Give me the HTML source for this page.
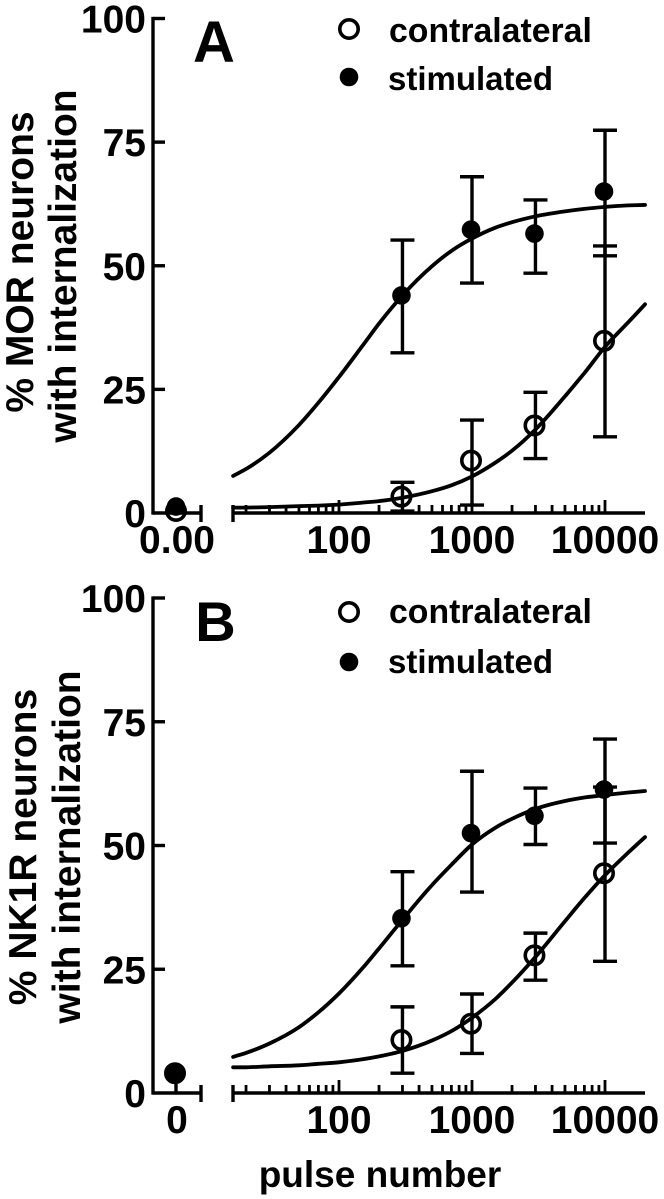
<!DOCTYPE html>
<html lang="en">
<head>
<meta charset="utf-8">
<title>Pulse number vs neurons with internalization</title>
<style>
html,body{margin:0;padding:0;background:#fff;width:664px;height:1199px;overflow:hidden}
svg{display:block;filter:blur(0.35px)}
text{font-family:"Liberation Sans",Arial,sans-serif;font-weight:bold;fill:#000}
</style>
</head>
<body>
<svg id="chart" xmlns="http://www.w3.org/2000/svg" width="664" height="1199" viewBox="0 0 664 1199"></svg>
<script>
// ---- data ----
const yTickValues = [0, 25, 50, 75, 100];
const yTickLabels = ['0', '25', '50', '75', '100'];
const xMajorValues = [100, 1000, 10000];
const xMajorLabels = ['100', '1000', '10000'];
const xMinorValues = [20,30,40,50,60,70,80,90,200,300,400,500,600,700,800,900,2000,3000,4000,5000,6000,7000,8000,9000];
const pulseCounts = [300, 1000, 3000, 10000];
const curvePulses = [16,20,30,50,70,100,150,200,300,500,700,1000,1500,2000,3000,5000,7000,10000,15000,20000];

const aContraMean = [3.3, 10.6, 17.7, 34.8];
const aContraUpper = [6.2, 18.8, 24.4, 54.0];
const aContraLower = [0.4, 1.6, 11.0, 15.4];
const aStimMean = [44.0, 57.3, 56.5, 65.0];
const aStimUpper = [55.2, 68.0, 63.3, 77.4];
const aStimLower = [32.4, 46.5, 48.5, 52.0];
const aContraCurve = [1.1,1.1,1.2,1.4,1.5,1.7,2.1,2.4,3.1,4.4,5.6,7.4,10.2,12.6,16.9,23.6,28.3,33.6,38.6,42.2];
const aStimCurve = [7.5,8.9,12.2,17.8,22.3,27.5,33.8,38.3,44.0,49.9,53.0,55.5,57.7,58.8,60.0,61.0,61.5,61.9,62.2,62.3];
const aZeroContra = 0.4;
const aZeroStim = 1.3;

const bContraMean = [10.7, 14.0, 27.8, 44.4];
const bContraUpper = [17.4, 20.0, 32.3, 61.8];
const bContraLower = [4.0, 8.0, 22.8, 26.6];
const bStimMean = [35.3, 52.5, 56.0, 61.3];
const bStimUpper = [44.7, 65.0, 61.6, 71.5];
const bStimLower = [25.7, 40.6, 50.2, 50.5];
const bContraCurve = [5.2,5.2,5.4,5.6,5.9,6.2,6.8,7.4,8.5,10.6,12.5,15.2,19.0,22.3,27.5,34.7,39.4,44.0,48.6,51.7];
const bStimCurve = [7.3,8.1,10.0,13.3,16.3,20.1,25.2,29.2,35.0,42.0,46.1,50.2,53.6,55.4,57.4,59.0,59.7,60.2,60.7,61.0];
const bZeroContra = 4.0;
const bZeroStim = 4.0;

// ---- axis functions ----
const NS = 'http://www.w3.org/2000/svg';
const svg = document.getElementById('chart');
const xLog = v => 339 + (Math.log10(v) - 2) * 133;
const scaleY = (y0, y100) => v => y0 + (y100 - y0) * v / 100;

function shape(tag, parent, props) {
  const el = document.createElementNS(NS, tag);
  for (const k in props) el.setAttribute(k, props[k]);
  parent.appendChild(el);
  return el;
}
function seg(parent, x1, y1, x2, y2, w) {
  return shape('line', parent, {x1, y1, x2, y2, stroke: '#000', 'stroke-width': w || 3.4});
}
function label(parent, str, x, y, size, anchor) {
  const el = shape('text', parent, {x, y, 'font-size': size, 'text-anchor': anchor || 'middle'});
  el.textContent = str;
  return el;
}
function smoothPath(pts) {
  const n = pts.length;
  const slope = i => {
    if (i === 0) return (pts[1][1] - pts[0][1]) / (pts[1][0] - pts[0][0]);
    if (i === n - 1) return (pts[n - 1][1] - pts[n - 2][1]) / (pts[n - 1][0] - pts[n - 2][0]);
    const h1 = pts[i][0] - pts[i - 1][0], h2 = pts[i + 1][0] - pts[i][0];
    const d1 = (pts[i][1] - pts[i - 1][1]) / h1, d2 = (pts[i + 1][1] - pts[i][1]) / h2;
    return (h2 * d1 + h1 * d2) / (h1 + h2);
  };
  let d = 'M' + pts[0][0].toFixed(1) + ' ' + pts[0][1].toFixed(1);
  for (let i = 0; i < n - 1; i++) {
    const p1 = pts[i], p2 = pts[i + 1], h = (p2[0] - p1[0]) / 3;
    d += 'C' + [p1[0] + h, p1[1] + slope(i) * h, p2[0] - h, p2[1] - slope(i + 1) * h, p2[0], p2[1]]
      .map(v => v.toFixed(1)).join(' ');
  }
  return d;
}
function marker(parent, x, y, filled) {
  return shape('circle', parent, filled
    ? {cx: x, cy: y, r: 9.3, fill: '#000', stroke: 'none'}
    : {cx: x, cy: y, r: 9.2, fill: 'none', stroke: '#000', 'stroke-width': 3.6});
}

function drawAxes(g, y, y0, zeroLabel) {
  const xAxis = shape('g', g, {});
  
  
  const yAxis = shape('g', g, {});
  
  

  seg(yAxis, 153, y(100) - 1.6, 153, y0 + 1.6);
  yTickValues.forEach((v, i) => {
    if (v > 0) seg(yAxis, 153, y(v), 165, y(v));
    const t = label(yAxis, yTickLabels[i], 146, y(v) + 14, 39, 'end');
    
    
  });

  seg(xAxis, 153, y0, 201, y0);
  seg(xAxis, 201, y0 - 8, 201, y0 + 9);
  const z = label(xAxis, zeroLabel, 177, y0 + 40, 39);
  
  

  seg(xAxis, 233, y0, 645, y0);
  seg(xAxis, 233, y0 - 8, 233, y0 + 9);
  xMinorValues.forEach(v => seg(xAxis, xLog(v), y0 - 8, xLog(v), y0, 2.8));
  xMajorValues.forEach((v, i) => {
    seg(xAxis, xLog(v), y0 - 13, xLog(v), y0, 2.8);
    const t = label(xAxis, xMajorLabels[i], xLog(v), y0 + 40, 39);
    
    
  });
}

function drawSeries(g, y, means, uppers, lowers, curve, filled) {
  const path = shape('path', g, {
    d: smoothPath(curvePulses.map((p, i) => [xLog(p), y(curve[i])])),
    fill: 'none', stroke: '#000', 'stroke-width': 3.8, 'stroke-linecap': 'round'
  });
  
  
  pulseCounts.forEach((p, i) => {
    const x = xLog(p);
    const bar = shape('g', g, {});
    
    
    seg(bar, x, y(uppers[i]), x, y(lowers[i]));
    seg(bar, x - 12, y(uppers[i]), x + 12, y(uppers[i]));
    seg(bar, x - 12, y(lowers[i]), x + 12, y(lowers[i]));
    const m = marker(g, x - 1, y(means[i]), filled);
    
    
  });
}

function drawLegend(g, yContra, yStim, baseContra, baseStim) {
  const lg = shape('g', g, {});
  
  
  const m1 = marker(lg, 349, yContra, false);
  
  
  const t1 = label(lg, 'contralateral', 389, baseContra, 33.8, 'start');
  
  
  const m2 = marker(lg, 349, yStim, true);
  
  
  const t2 = label(lg, 'stimulated', 388, baseStim, 33, 'start');
  
  
}

function yTitle(g, str, x, cy, size) {
  const t = shape('text', g, {
    x: 0, y: 0, 'font-size': size, 'text-anchor': 'middle',
    transform: 'translate(' + x + ' ' + cy + ') rotate(-90)'
  });
  t.textContent = str;
  return t;
}

// ---- panel A ----
const panelA = shape('g', svg, {});


const yA = scaleY(513, 18.5);
drawAxes(panelA, yA, 513, '0.00');
drawSeries(panelA, yA, aContraMean, aContraUpper, aContraLower, aContraCurve, false);
drawSeries(panelA, yA, aStimMean, aStimUpper, aStimLower, aStimCurve, true);
const a0c = marker(panelA, 176, yA(aZeroContra), false);


const a0s = marker(panelA, 176, yA(aZeroStim), true);


drawLegend(panelA, 29, 77, 42, 90);
const letterA = label(panelA, 'A', 214, 62, 58);


const titleA1 = yTitle(panelA, '% MOR neurons', 33, 262, 39);


const titleA2 = yTitle(panelA, 'with internalization', 76, 266, 39);



// ---- panel B ----
const panelB = shape('g', svg, {});


const yB = scaleY(1093, 598);
drawAxes(panelB, yB, 1093, '0');
drawSeries(panelB, yB, bContraMean, bContraUpper, bContraLower, bContraCurve, false);
drawSeries(panelB, yB, bStimMean, bStimUpper, bStimLower, bStimCurve, true);
const bStem = seg(panelB, 176, yB(bZeroStim), 176, 1093);


const b0c = marker(panelB, 175, yB(bZeroContra), false);


const b0s = marker(panelB, 175, yB(bZeroStim), true);


drawLegend(panelB, 612, 662, 623, 673);
const letterB = label(panelB, 'B', 215.5, 641, 56);


const titleB1 = yTitle(panelB, '% NK1R neurons', 36, 847, 39);


const titleB2 = yTitle(panelB, 'with internalization', 80, 847, 39);



const xTitle = label(svg, 'pulse number', 380, 1187, 37);


</script>
</body>
</html>
